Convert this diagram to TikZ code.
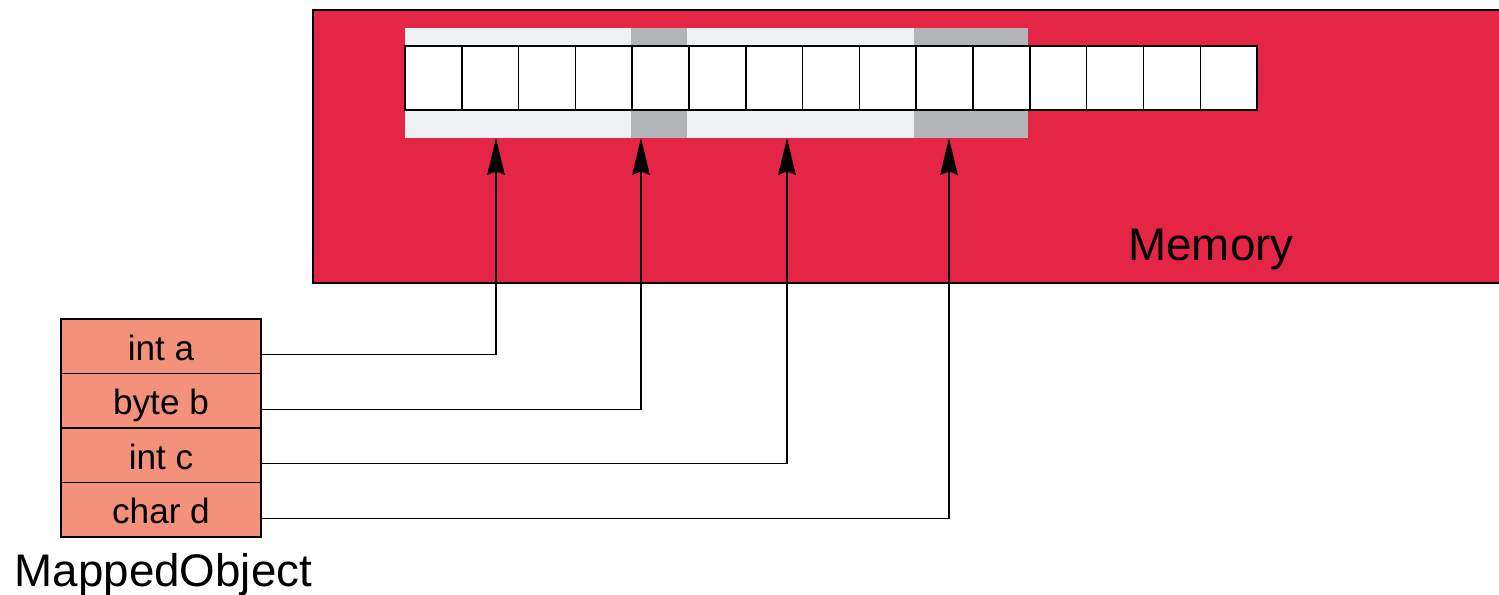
\documentclass[tikz,border=0pt]{standalone}
\usepackage{fontspec}
\setmainfont{Liberation Sans}
\usetikzlibrary{arrows.meta, positioning}
\tikzstyle{cell} = [rectangle, draw, fill=white, line width=0.8pt, minimum width=1.136cm, minimum height=1.28cm, outer sep=0pt, inner sep=0pt]
\tikzstyle{field} = [rectangle, draw, fill=fieldred, line width=0.8pt, minimum width=4cm, minimum height=1.09cm, outer sep=0pt, inner sep=2pt, text height=16pt, text depth=0pt, font=\fontsize{20}{24}\selectfont]
\tikzstyle{pointer} = [draw, -{Stealth[length=21pt, width=10pt, inset=2pt]}, line width=0.8pt]
\tikzstyle{biglabel} = [font=\fontsize{26}{30}\selectfont]
\definecolor{memred}{HTML}{E52545}
\definecolor{fieldred}{HTML}{F4917A}
\definecolor{lgray}{HTML}{F0F1F3}
\definecolor{dgray}{HTML}{B3B4B7}

\begin{document}
\begin{tikzpicture}[x=0.02cm, y=-0.02cm]
\useasboundingbox (0,0) rectangle (1499,595);

%% memory block
\draw[fill=memred, line width=0.6pt] (313,10) rectangle (1530,283);
\node[biglabel] (memlabel) at (1211,250) {Memory};

%% field spans
\fill[lgray] (405,28) rectangle (631,138);
\fill[dgray] (631,28) rectangle (687,138);
\fill[lgray] (687,28) rectangle (914,138);
\fill[dgray] (914,28) rectangle (1028,138);

%% bytes
\foreach \i in {0,...,14}
  \node[cell] (m\i) at ({433.4+56.8*\i}, 78) {};

%% mapped object
\node[field] at (161,346.25) (fa) {int a};
\node[field, below=0pt of fa] (fb) {byte b};
\node[field, below=0pt of fb] (fc) {int c};
\node[field, below=0pt of fc] (fd) {char d};
\node[biglabel, below=0.2cm of fd, xshift=0.05cm] (objlabel) {MappedObject};

%% pointers
\coordinate (pa) at (496,138);
\coordinate (pb) at (641,138);
\coordinate (pc) at (787,138);
\coordinate (pd) at (949,138);
\path[pointer] ([yshift=-0.17cm]fa.east) -| (pa);
\path[pointer] ([yshift=-0.17cm]fb.east) -| (pb);
\path[pointer] ([yshift=-0.17cm]fc.east) -| (pc);
\path[pointer] ([yshift=-0.17cm]fd.east) -| (pd);

\end{tikzpicture}
\end{document}
